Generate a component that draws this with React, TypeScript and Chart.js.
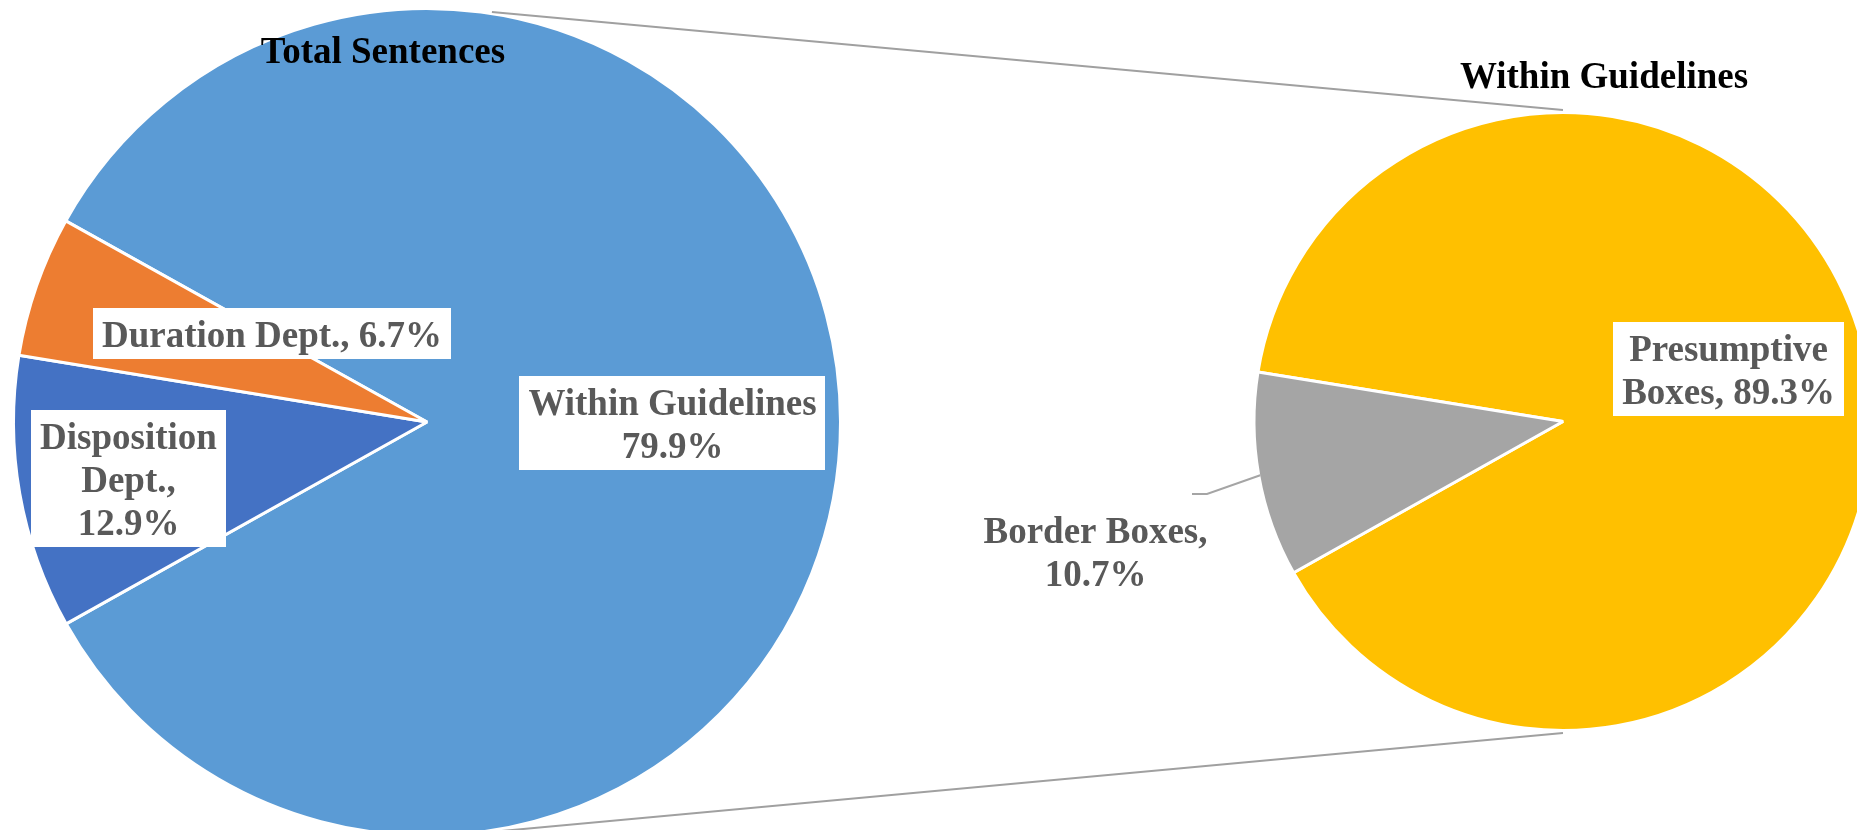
import React, { useEffect, useRef } from 'react';
import { Chart, registerables } from 'chart.js';

Chart.register(...registerables);

// ---- data ----
const totalCategories = ['Within Guidelines', 'Disposition Dept.', 'Duration Dept.'];
// slice sizes as drawn in the reference (angles)
const totalSliceValues = [83.8, 10.7, 5.5];
const totalPercentLabels = ['79.9%', '12.9%', '6.7%'];
const totalColors = ['#5B9BD5', '#4472C4', '#ED7D31'];

const withinCategories = ['Presumptive Boxes', 'Border Boxes'];
const withinValues = [89.3, 10.7];
const withinPercentLabels = ['89.3%', '10.7%'];
const withinColors = ['#FFC000', '#A5A5A5'];

const chartTitles = ['Total Sentences', 'Within Guidelines'];

// label text lines (built from the arrays above)
const totalLabelLines = [
  [totalCategories[0], totalPercentLabels[0]],
  ['Disposition', 'Dept.,', totalPercentLabels[1]],
  [totalCategories[2] + ', ' + totalPercentLabels[2]],
];
const withinLabelLines = [
  ['Presumptive', 'Boxes, ' + withinPercentLabels[0]],
  [withinCategories[1] + ',', withinPercentLabels[1]],
];

const W = 1857;
const H = 830;
const FONT = 'bold 37px "Liberation Serif", "Times New Roman", serif';
const LABEL_COLOR = '#595959';
const LINE_H = 43;

function drawLabel(ctx: CanvasRenderingContext2D, lines: string[], cx: number, cy: number, box: boolean) {
  ctx.save();
  ctx.font = FONT;
  const widths = lines.map((l) => ctx.measureText(l).width);
  const bw = Math.max(...widths) + 18;
  const bh = lines.length * LINE_H + 8;
  const top = cy - bh / 2;
  if (box) {
    ctx.fillStyle = '#FFFFFF';
    ctx.fillRect(Math.round(cx - bw / 2), Math.round(top), Math.round(bw), Math.round(bh));
  }
  ctx.fillStyle = LABEL_COLOR;
  ctx.textAlign = 'center';
  ctx.textBaseline = 'alphabetic';
  lines.forEach((l, i) => ctx.fillText(l, cx, top + 39 + i * LINE_H));
  ctx.restore();
}

function drawTitle(ctx: CanvasRenderingContext2D, text: string, cx: number, baseline: number) {
  ctx.save();
  ctx.font = FONT;
  ctx.fillStyle = '#000000';
  ctx.textAlign = 'center';
  ctx.textBaseline = 'alphabetic';
  ctx.fillText(text, cx, baseline);
  ctx.restore();
}

export default function App() {
  const leftRef = useRef<HTMLCanvasElement | null>(null);
  const rightRef = useRef<HTMLCanvasElement | null>(null);

  useEffect(() => {
    document.body.style.margin = '0';
    document.documentElement.style.overflow = 'hidden';
    document.body.style.overflow = 'hidden';

    const rightChart = new Chart(rightRef.current as HTMLCanvasElement, {
      type: 'pie',
      data: {
        labels: withinCategories,
        datasets: [
          {
            data: withinValues,
            backgroundColor: withinColors,
            borderColor: '#FFFFFF',
            borderWidth: 3,
            clip: false as any,
          },
        ],
      },
      options: {
        responsive: false,
        animation: false,
        devicePixelRatio: 1,
        rotation: -80.8,
        radius: 309,
        layout: { padding: { left: 1269, right: 0, top: 13, bottom: 0 } },
        plugins: { legend: { display: false }, tooltip: { enabled: false }, title: { display: false } },
        events: [],
      } as any,
      plugins: [
        {
          id: 'rightDecor',
          afterDraw(chart: any) {
            const ctx = chart.ctx as CanvasRenderingContext2D;
            const arcs = chart.getDatasetMeta(0).data;
            const a0 = arcs[0];
            const cx = a0.x;
            const cy = a0.y;
            const r = a0.outerRadius - 1.5;
            // title
            drawTitle(ctx, chartTitles[1], cx + 41, cy - r - 26);
            // leader line for Border Boxes
            const b = arcs[1];
            const mid = (b.startAngle + b.endAngle) / 2;
            const px = cx + r * Math.cos(mid);
            const py = cy + r * Math.sin(mid);
            ctx.save();
            ctx.strokeStyle = '#A5A5A5';
            ctx.lineWidth = 2;
            ctx.beginPath();
            ctx.moveTo(px, py);
            ctx.lineTo(cx - 356, cy + 72.5);
            ctx.lineTo(cx - 371, cy + 72.5);
            ctx.stroke();
            ctx.restore();
            // labels
            drawLabel(ctx, withinLabelLines[0], cx + 165.5, cy - 53, true);
            drawLabel(ctx, withinLabelLines[1], cx - 467.5, cy + 129, false);
          },
        },
      ],
    });

    const leftChart = new Chart(leftRef.current as HTMLCanvasElement, {
      type: 'pie',
      data: {
        labels: totalCategories,
        datasets: [
          {
            data: totalSliceValues,
            backgroundColor: totalColors,
            borderColor: '#FFFFFF',
            borderWidth: 3,
            clip: false as any,
          },
        ],
      },
      options: {
        responsive: false,
        animation: false,
        devicePixelRatio: 1,
        rotation: -60.9,
        radius: 413.5,
        layout: { padding: { left: 0, right: 1003, top: 14, bottom: 0 } },
        plugins: { legend: { display: false }, tooltip: { enabled: false }, title: { display: false } },
        events: [],
      } as any,
      plugins: [
        {
          id: 'leftDecor',
          afterDraw(chart: any) {
            const ctx = chart.ctx as CanvasRenderingContext2D;
            const a0 = chart.getDatasetMeta(0).data[0];
            const cx = a0.x;
            const cy = a0.y;
            const r = a0.outerRadius - 1.5;
            // connector lines to the secondary pie
            const ra = rightChart.getDatasetMeta(0).data[0] as any;
            const rcx = ra.x;
            const rcy = ra.y;
            const rr = ra.outerRadius - 1.5;
            const ang = (81 * Math.PI) / 180;
            ctx.save();
            ctx.strokeStyle = '#A0A0A0';
            ctx.lineWidth = 2;
            ctx.beginPath();
            ctx.moveTo(cx + (r + 3) * Math.cos(-ang), cy + (r + 3) * Math.sin(-ang));
            ctx.lineTo(rcx, rcy - rr - 4);
            ctx.moveTo(cx + (r + 3) * Math.cos(ang), cy + (r + 3) * Math.sin(ang));
            ctx.lineTo(rcx, rcy + rr + 4);
            ctx.stroke();
            ctx.restore();
            // title
            drawTitle(ctx, chartTitles[0], cx - 44, cy - 359);
            // labels
            drawLabel(ctx, totalLabelLines[0], cx + 245.5, cy + 0.5, true);
            drawLabel(ctx, totalLabelLines[1], cx - 298.5, cy + 56.5, true);
            drawLabel(ctx, totalLabelLines[2], cx - 155, cy - 88.5, true);
          },
        },
      ],
    });

    return () => {
      leftChart.destroy();
      rightChart.destroy();
    };
  }, []);

  return (
    <div style={{ position: 'relative', width: W, height: H, overflow: 'hidden', background: '#FFFFFF' }}>
      <canvas ref={leftRef} width={W} height={H} style={{ position: 'absolute', left: 0, top: 0, width: W, height: H }} />
      <canvas ref={rightRef} width={W} height={H} style={{ position: 'absolute', left: 0, top: 0, width: W, height: H }} />
    </div>
  );
}
